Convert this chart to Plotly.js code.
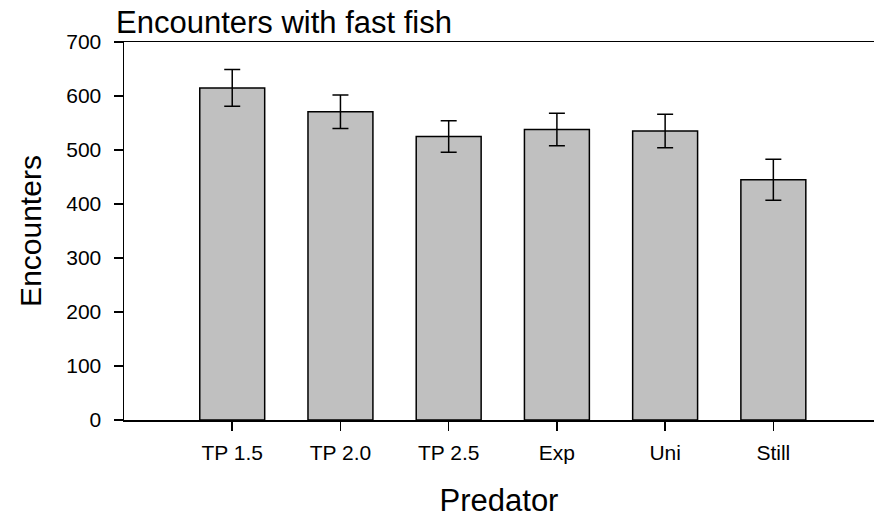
<!DOCTYPE html>
<html>
<head>
<meta charset="utf-8">
<script src="https://cdn.plot.ly/plotly-3.0.1.min.js"></script>
<style>html,body{margin:0;padding:0;background:#fff;overflow:hidden;}</style>
</head>
<body>
<div id="chart" style="width:874px;height:522px;"></div>
<script>
const categories = ["TP 1.5", "TP 2.0", "TP 2.5", "Exp", "Uni", "Still"];
const encounters = [615, 571, 525, 538, 535, 445];
const errors = [34, 31, 29, 30, 31, 38];

const trace = {
  type: "bar",
  x: categories,
  y: encounters,
  width: 0.6,
  marker: { color: "#c0c0c0", line: { color: "#000", width: 1.5 } },
  error_y: { type: "data", array: errors, visible: true, color: "#000", thickness: 1.5, width: 8 },
  hoverinfo: "none"
};

const layout = {
  width: 874, height: 522,
  margin: { l: 124, r: 0, t: 42, b: 102 },
  paper_bgcolor: "#fff", plot_bgcolor: "#fff",
  font: { family: "Arial, 'Liberation Sans', sans-serif", color: "#000" },
  showlegend: false,
  bargap: 0.4,
  title: {
    text: "Encounters with fast fish",
    font: { size: 31, color: "#000" },
    xref: "container", x: 116 / 874, xanchor: "left",
    yref: "container", y: 1 - 22 / 522, yanchor: "middle"
  },
  xaxis: {
    type: "category",
    range: [-1, 5.93],
    showline: true, linecolor: "#000", linewidth: 1.5, mirror: true,
    ticks: "outside", ticklen: 9, tickwidth: 1.5, tickcolor: "#000",
    tickfont: { size: 21 },
    ticklabelstandoff: 4,
    showgrid: false, zeroline: false,
    title: { text: "Predator", font: { size: 31 }, standoff: 26 }
  },
  yaxis: {
    range: [0, 700], dtick: 100, tick0: 0,
    showline: true, linecolor: "#000", linewidth: 1.5,
    ticks: "outside", ticklen: 9, tickwidth: 1.5, tickcolor: "#000",
    tickfont: { size: 21 },
    ticklabelstandoff: 8,
    showgrid: false, zeroline: false,
    title: { text: "Encounters", font: { size: 30 }, standoff: 16 }
  }
};

Plotly.newPlot("chart", [trace], layout, { staticPlot: true, displayModeBar: false });
</script>
</body>
</html>
